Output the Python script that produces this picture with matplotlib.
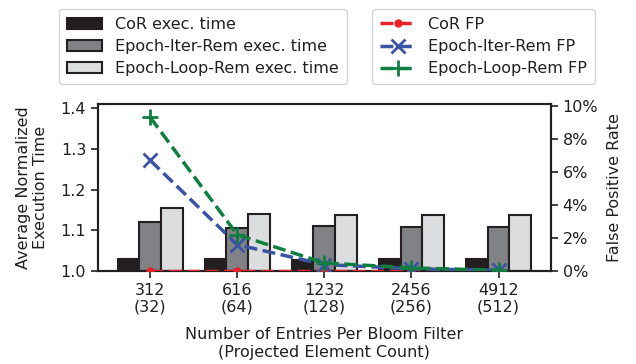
import matplotlib
matplotlib.use("Agg")
import matplotlib.pyplot as plt
import numpy as np
from matplotlib.ticker import PercentFormatter

entries = ["312\n(32)", "616\n(64)", "1232\n(128)", "2456\n(256)", "4912\n(512)"]

cor_time = [1.03, 1.03, 1.028, 1.03, 1.03]
iter_time = [1.12, 1.105, 1.11, 1.108, 1.108]
loop_time = [1.155, 1.14, 1.137, 1.137, 1.137]

cor_fp = [0.0, 0.0, 0.0, 0.0, 0.0]
iter_fp = [6.7, 1.6, 0.4, 0.15, 0.05]
loop_fp = [9.3, 2.2, 0.5, 0.2, 0.05]

ink = "#231f20"
plt.rcParams['font.family'] = ['DejaVu Sans']
plt.rcParams['font.size'] = 11.5
plt.rcParams['text.color'] = ink
plt.rcParams['axes.labelcolor'] = ink

fig = plt.figure(figsize=(6.36, 3.64), dpi=100)
ax = fig.add_axes([0.154, 0.255, 0.712, 0.459])
x = np.arange(len(entries))
w = 0.25

b1 = ax.bar(x - w, np.array(cor_time) - 1.0, w, bottom=1.0, color=ink,
            edgecolor=ink, lw=1.5, label="CoR exec. time")
b2 = ax.bar(x, np.array(iter_time) - 1.0, w, bottom=1.0, color="#808285",
            edgecolor=ink, lw=1.5, label="Epoch-Iter-Rem exec. time")
b3 = ax.bar(x + w, np.array(loop_time) - 1.0, w, bottom=1.0, color="#dcddde",
            edgecolor=ink, lw=1.5, label="Epoch-Loop-Rem exec. time")

ax.set_ylim(1.0, 1.41)
ax.set_xlim(-0.6, 4.6)
ax.set_yticks([1.0, 1.1, 1.2, 1.3, 1.4])
ax.set_xticks(x)
ax.set_xticklabels(entries, linespacing=1.15)
ax.set_ylabel("Average Normalized\nExecution Time", labelpad=9, linespacing=1.2)
ax.set_xlabel("Number of Entries Per Bloom Filter\n(Projected Element Count)",
              labelpad=9, linespacing=1.2)

ax2 = ax.twinx()
l1, = ax2.plot(x, cor_fp, "--", color="#e8242a", lw=2.5, marker="o", ms=5,
               zorder=3, label="CoR FP")
l2, = ax2.plot(x, iter_fp, "--", color="#3a53a4", lw=2.5, marker="x", ms=10,
               mew=2, zorder=3, label="Epoch-Iter-Rem FP")
l3, = ax2.plot(x, loop_fp, "--", color="#0f7f3f", lw=2.5, marker="+", ms=11,
               mew=2, zorder=3, label="Epoch-Loop-Rem FP")
ax2.set_ylim(0, 10.1)
ax2.set_yticks([0, 2, 4, 6, 8, 10])
ax2.yaxis.set_major_formatter(PercentFormatter(decimals=0))
ax2.set_ylabel("False Positive Rate", labelpad=6)

for a in (ax, ax2):
    for s in a.spines.values():
        s.set_linewidth(1.5)
        s.set_color(ink)
    a.tick_params(width=1.2, length=5, color=ink, labelcolor=ink)

fig.legend(handles=[b1, b2, b3], loc="upper left", bbox_to_anchor=(0.093, 0.975),
           borderaxespad=0, frameon=True, edgecolor="#cccccc", handlelength=2.2,
           borderpad=0.5, labelspacing=0.45, handletextpad=0.8)
fig.legend(handles=[l1, l2, l3], loc="upper left", bbox_to_anchor=(0.585, 0.975),
           borderaxespad=0, frameon=True, edgecolor="#cccccc", handlelength=2.2,
           borderpad=0.5, labelspacing=0.45, handletextpad=0.8)

fig.savefig("out.png", dpi=100)
